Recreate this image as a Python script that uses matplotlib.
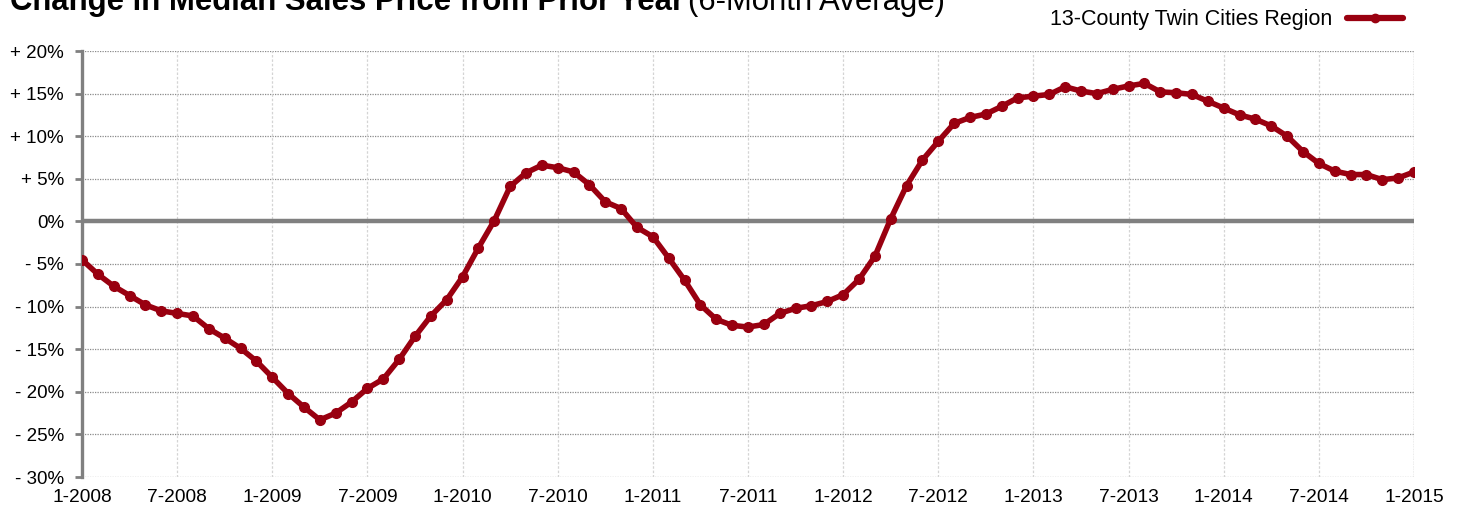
import matplotlib
matplotlib.use("Agg")
import matplotlib.pyplot as plt
from matplotlib.lines import Line2D

# ---- data ----
series_name = "13-County Twin Cities Region"
values = [
    -4.5, -6.2, -7.6, -8.7, -9.8, -10.5, -10.8, -11.1, -12.6, -13.7, -14.9, -16.4,
    -18.3, -20.2, -21.8, -23.3, -22.5, -21.2, -19.6, -18.5, -16.2, -13.5, -11.1, -9.2,
    -6.5, -3.1, 0.1, 4.1, 5.7, 6.6, 6.3, 5.8, 4.3, 2.3, 1.5, -0.7,
    -1.8, -4.3, -6.9, -9.8, -11.5, -12.2, -12.4, -12.1, -10.8, -10.2, -9.9, -9.4,
    -8.6, -6.8, -4.1, 0.3, 4.2, 7.2, 9.4, 11.5, 12.2, 12.6, 13.5, 14.5,
    14.7, 14.9, 15.8, 15.3, 15.0, 15.5, 15.9, 16.2, 15.2, 15.1, 14.9, 14.1,
    13.3, 12.5, 12.0, 11.2, 10.0, 8.2, 6.8, 5.9, 5.5, 5.5, 4.9, 5.1,
    5.8,
]
x_tick_labels = ["1-2008", "7-2008", "1-2009", "7-2009", "1-2010", "7-2010", "1-2011",
                 "7-2011", "1-2012", "7-2012", "1-2013", "7-2013", "1-2014", "7-2014",
                 "1-2015"]
y_ticks = [20, 15, 10, 5, 0, -5, -10, -15, -20, -25, -30]
y_tick_labels = ["+ 20%", "+ 15%", "+ 10%", "+ 5%", "0%", "- 5%", "- 10%", "- 15%",
                 "- 20%", "- 25%", "- 30%"]

RED = "#990010"
GRAY = "#808080"

plt.rcParams["font.family"] = ["Liberation Sans", "DejaVu Sans"]

fig = plt.figure(figsize=(14.6, 5.09), dpi=100)
ax = fig.add_axes([82 / 1460, 1 - 477 / 509, (1414 - 82) / 1460, (477 - 51) / 509])

months = list(range(len(values)))
ax.set_xlim(0, len(values) - 1)
ax.set_ylim(-30, 20)

# grid
for yt in y_ticks:
    if yt != 0:
        ax.axhline(yt, color="#8a8a8a", lw=0.9, ls=(0, (1, 1)), zorder=1)
for xt in range(0, len(values), 6):
    ax.axvline(xt, color="#d4d4d4", lw=0.9, ls=(0, (2, 1.5)), zorder=1)
ax.axvline(len(values) - 1, color="#8a8a8a", lw=0.9, ls=(0, (1, 1)), zorder=1)
ax.axhline(0, color=GRAY, lw=3.2, zorder=2)

ax.plot(months, values, color=RED, lw=4.0, marker="o", ms=7, zorder=3,
        solid_capstyle="round", solid_joinstyle="round", label=series_name)

for s in ["top", "right", "bottom"]:
    ax.spines[s].set_visible(False)
ax.spines["left"].set_color(GRAY)
ax.spines["left"].set_linewidth(2.4)

ax.set_yticks(y_ticks)
ax.set_yticklabels(y_tick_labels)
ax.set_xticks(list(range(0, len(values), 6)))
ax.set_xticklabels(x_tick_labels)
ax.tick_params(axis="y", length=5, width=2, color=GRAY, labelsize=13.5, pad=8)
ax.tick_params(axis="x", length=0, labelsize=13.8, pad=9)

# legend (text first, then line)
leg = ax.legend(handles=[Line2D([0], [0], color=RED, lw=4.5, marker="o", ms=6,
                                solid_capstyle="round")],
                labels=[series_name], loc="center right", markerfirst=False,
                frameon=False, fontsize=15.5, handlelength=2.6, handletextpad=0.7,
                bbox_to_anchor=(1403 / 1460, 1 - 20 / 509),
                bbox_transform=fig.transFigure, borderpad=0, borderaxespad=0)

# title (partly cut off at the top, as in the reference)
fig.text(10 / 1460, 1 - 10 / 509, "Change in Median Sales Price from Prior Year",
         fontsize=22.4, fontweight="bold", ha="left", va="baseline",
         family=["Liberation Sans Narrow", "Liberation Sans", "DejaVu Sans"],
         fontstretch="condensed")
fig.text(688 / 1460, 1 - 10 / 509, "(6-Month Average)",
         fontsize=22.4, ha="left", va="baseline",
         family=["Liberation Sans Narrow", "Liberation Sans", "DejaVu Sans"],
         fontstretch="condensed")

fig.savefig("out.png", dpi=100)
